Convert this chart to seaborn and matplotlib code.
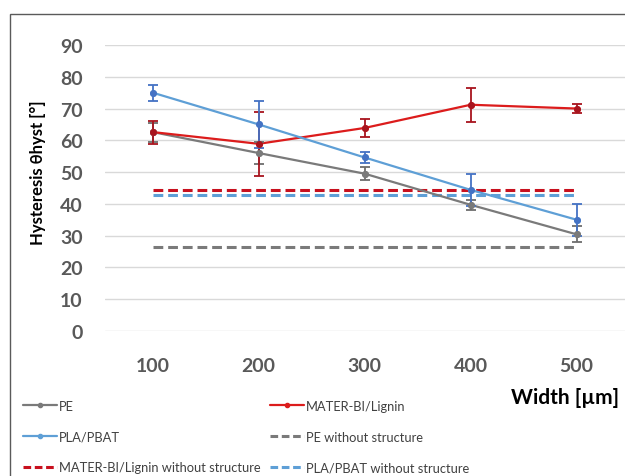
import matplotlib
matplotlib.use("Agg")
import matplotlib.pyplot as plt
from matplotlib.lines import Line2D
from matplotlib.patches import Rectangle
import seaborn as sns
import pandas as pd

# Channel widths [µm]
widths = [100, 200, 300, 400, 500]

# Mean contact-angle hysteresis [°] and standard deviations
pe_mean = [62.6, 56.0, 49.5, 39.7, 30.4]
pe_err = [3.0, 3.5, 2.0, 1.5, 2.5]
mater_mean = [62.6, 58.9, 63.9, 71.2, 70.0]
mater_err = [3.6, 10.0, 2.8, 5.4, 1.3]
pla_mean = [75.0, 65.0, 54.6, 44.4, 35.0]
pla_err = [2.5, 7.5, 1.8, 5.0, 5.0]

# Reference values on the unstructured surface [°]
pe_flat = 26.5
mater_flat = 44.4
pla_flat = 42.8

series_names = ["PE", "MATER-BI/Lignin", "PLA/PBAT"]
flat_names = ["PE without structure", "MATER-BI/Lignin without structure",
              "PLA/PBAT without structure"]
yticks = [0, 10, 20, 30, 40, 50, 60, 70, 80, 90]

line_colors = {"PE": "#7a7a7a", "MATER-BI/Lignin": "#dc1c1c", "PLA/PBAT": "#5e9fd6"}
err_colors = {"PE": "#6d6d6d", "MATER-BI/Lignin": "#a8141e", "PLA/PBAT": "#4472c4"}
flat_colors = {"PE": "#7a7a7a", "MATER-BI/Lignin": "#c8101e", "PLA/PBAT": "#5e9fd6"}

sns.set_theme(style="white")
plt.rcParams["font.family"] = ["Lato", "DejaVu Sans"]

df = pd.DataFrame({
    "width": widths * 3,
    "value": pe_mean + mater_mean + pla_mean,
    "material": [n for n in series_names for _ in widths],
})

fig = plt.figure(figsize=(6.25, 4.77), dpi=100)
ax = fig.add_axes([105 / 625, 145 / 477, 530 / 625, 286 / 477])

# outer frame of the chart area (only top and left edges fall inside the image)
fig.patches.append(Rectangle((10 / 625, -0.2), 1.2, 1.2 - 15 / 477,
                             transform=fig.transFigure, fill=False,
                             edgecolor="#5a5a5a", linewidth=1.0, zorder=0))

# reference dashed lines
for name, val in zip(series_names, [pe_flat, mater_flat, pla_flat]):
    ax.plot([widths[0], widths[-1]], [val, val], linestyle=(0, (3.2, 1.6)),
            color=flat_colors[name], linewidth=2.2, zorder=2)

sns.lineplot(data=df, x="width", y="value", hue="material", palette=line_colors,
             marker="o", markersize=5, markeredgewidth=0, linewidth=1.6,
             legend=False, ax=ax, zorder=3)

for name, m, e in zip(series_names, [pe_mean, mater_mean, pla_mean],
                      [pe_err, mater_err, pla_err]):
    ax.errorbar(widths, m, yerr=e, fmt="none", ecolor=err_colors[name],
                elinewidth=1.3, capsize=3.5, capthick=1.3, zorder=4)
    ax.plot(widths, m, "o", color=err_colors[name] if name != "PE" else line_colors[name],
            markersize=5, markeredgewidth=0, zorder=5)

ax.set_xlim(55, 555)
ax.set_ylim(0, 90)
ax.set_xticks(widths)
ax.set_xticklabels([str(w) for w in widths])
ax.set_yticks(yticks)
ax.set_yticklabels([str(t) for t in yticks])
ax.grid(axis="y", color="#d9d9d9", linewidth=1.0)
ax.set_axisbelow(True)
for s in ax.spines.values():
    s.set_visible(False)
ax.tick_params(axis="both", length=0, labelsize=14, labelcolor="#595959")
ax.tick_params(axis="x", pad=19)
ax.tick_params(axis="y", pad=16)
for lab in ax.get_xticklabels() + ax.get_yticklabels():
    lab.set_fontweight("bold")
ax.set_xlabel("")
ax.set_ylabel("")

fig.text(38 / 625, 1 - 173 / 477, "Hysteresis θhyst [°]", rotation=90,
         ha="center", va="center", fontsize=12, fontweight="bold", color="black")
fig.text(565 / 625, 1 - 398 / 477, "Width [µm]", ha="center", va="center",
         fontsize=15, fontweight="bold", color="black")

dash = (0, (2.5, 1.2))
left_handles = [
    Line2D([], [], color=line_colors["PE"], marker="o", markersize=3, linewidth=1.6),
    Line2D([], [], color=line_colors["PLA/PBAT"], marker="o", markersize=3, linewidth=1.6),
    Line2D([], [], color=flat_colors["MATER-BI/Lignin"], linestyle=dash, linewidth=2.2),
]
left_labels = ["PE", "PLA/PBAT", flat_names[1]]
right_handles = [
    Line2D([], [], color=line_colors["MATER-BI/Lignin"], marker="o", markersize=3, linewidth=1.6),
    Line2D([], [], color=flat_colors["PE"], linestyle=dash, linewidth=2.2),
    Line2D([], [], color=flat_colors["PLA/PBAT"], linestyle=dash, linewidth=2.2),
]
right_labels = [series_names[1], flat_names[0], flat_names[2]]

common = dict(loc="upper left", frameon=False, fontsize=9.3, handlelength=2.6,
              handletextpad=0.2, labelspacing=1.45, labelcolor="#404040",
              borderaxespad=0.0, borderpad=0.0)
leg1 = fig.legend(left_handles, left_labels,
                  bbox_to_anchor=(23 / 625, 1 - 401 / 477), **common)
leg2 = fig.legend(right_handles, right_labels,
                  bbox_to_anchor=(270 / 625, 1 - 401 / 477), **common)

fig.savefig("out.png", dpi=100)
